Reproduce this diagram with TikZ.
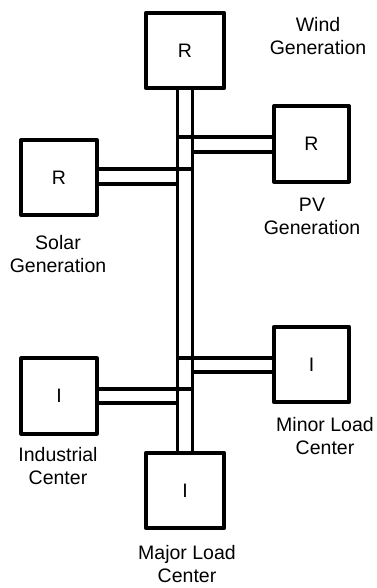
\documentclass[tikz,border=0pt]{standalone}
\usepackage{fontspec}
\setmainfont{Liberation Sans}
\begin{document}
\begin{tikzpicture}[x=1pt,y=-1pt,
  box/.style={draw,line width=3.6pt,line join=round,minimum width=75.5pt,minimum height=75.5pt,inner sep=0pt,font=\fontsize{19.5}{23}\selectfont},
  wide/.style={minimum width=78.5pt},
  lbl/.style={align=center,inner sep=0pt,font=\fontsize{19.5}{23}\selectfont},
  wire/.style={line width=3.3pt},
  junction/.style={circle,fill,inner sep=0pt,minimum size=5.5pt}]
\useasboundingbox (0,0) rectangle (376,588);
% boxes
\node[box,wide] (wind) at (185,50.5) {R};
\node[box] (solar) at (59,177.5) {R};
\node[box] (pv) at (311.5,144) {R};
\node[box] (minor) at (311.5,364.5) {I};
\node[box] (ind) at (59,396) {I};
\node[box,wide] (major) at (185,490.5) {I};
% labels
\node[lbl] (windl) at (318,36.5) {Wind\\Generation};
\node[lbl] (pvl) at (312,216.5) {PV\\Generation};
\node[lbl] (solarl) at (58,254.5) {Solar\\Generation};
\node[lbl] (minorl) at (325,436.5) {Minor Load\\Center};
\node[lbl] (indl) at (58,466.5) {Industrial\\Center};
\node[lbl] (majorl) at (187,564.5) {Major Load\\Center};
% bus
\coordinate (bl) at ([xshift=-7.5pt]wind.south);
\coordinate (br) at ([xshift=7.5pt]wind.south);
\draw[wire] (bl) -- ([xshift=-7.5pt]major.north);
\draw[wire] (br) -- ([xshift=7.5pt]major.north);
% PV
\coordinate (pv1) at ([yshift=7pt]pv.west);
\coordinate (pv2) at ([yshift=-8pt]pv.west);
\draw[wire] (pv1) -- (pv1 -| bl);
\draw[wire] (pv2) -- (pv2 -| br);
\node[junction] (jpv) at (pv1 -| br) {};
% Solar
\coordinate (so1) at ([yshift=8.5pt]solar.east);
\coordinate (so2) at ([yshift=-6.5pt]solar.east);
\draw[wire] (so1) -- (so1 -| br);
\draw[wire] (so2) -- (so2 -| bl);
\node[junction] (jso) at (so1 -| bl) {};
% Minor
\coordinate (mi1) at ([yshift=6.5pt]minor.west);
\coordinate (mi2) at ([yshift=-7.5pt]minor.west);
\draw[wire] (mi1) -- (mi1 -| bl);
\draw[wire] (mi2) -- (mi2 -| br);
\node[junction] (jmi) at (mi1 -| br) {};
% Industrial
\coordinate (in1) at ([yshift=7pt]ind.east);
\coordinate (in2) at ([yshift=-7pt]ind.east);
\draw[wire] (in1) -- (in1 -| br);
\draw[wire] (in2) -- (in2 -| bl);
\node[junction] (jin) at (in1 -| bl) {};
\end{tikzpicture}
\end{document}
